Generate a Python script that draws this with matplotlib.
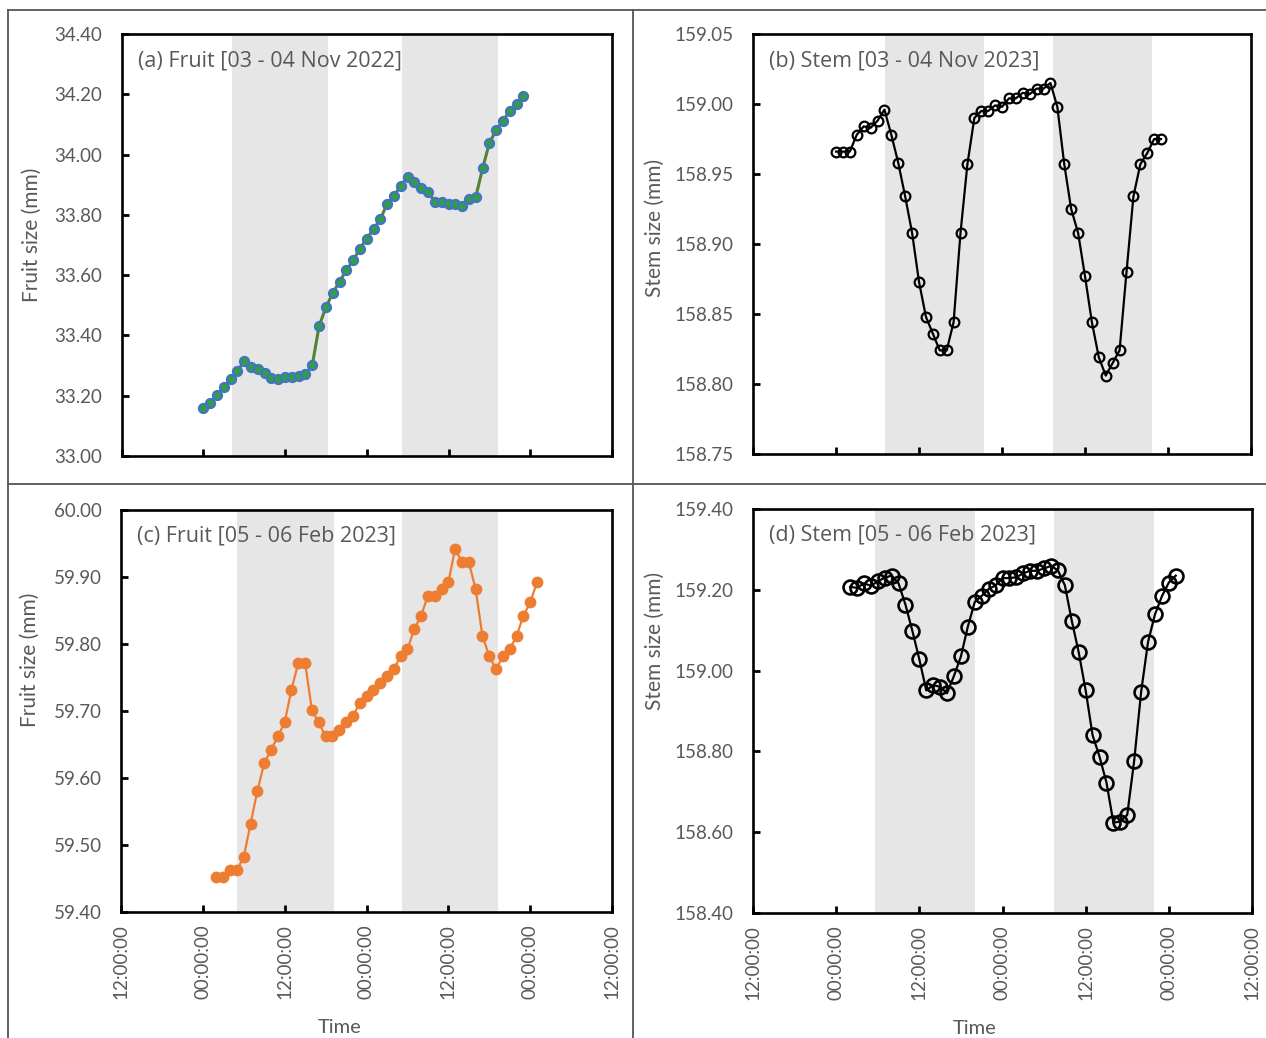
import matplotlib
matplotlib.use("Agg")
import matplotlib.pyplot as plt
import numpy as np

# hours since 12:00 of the day before the first sample
hours_ab = np.arange(12, 60)
hours_cd = np.arange(14, 62)

fruit_nov = [33.158, 33.177, 33.201, 33.229, 33.255, 33.282, 33.314, 33.294,
             33.288, 33.276, 33.260, 33.254, 33.261, 33.262, 33.267, 33.271,
             33.301, 33.431, 33.493, 33.541, 33.578, 33.616, 33.649, 33.688,
             33.721, 33.753, 33.786, 33.837, 33.864, 33.896, 33.927, 33.910,
             33.888, 33.876, 33.844, 33.844, 33.836, 33.836, 33.831, 33.852,
             33.859, 33.954, 34.038, 34.082, 34.112, 34.146, 34.167, 34.194]

stem_nov = [158.966, 158.966, 158.966, 158.978, 158.984, 158.983, 158.988, 158.996,
            158.978, 158.958, 158.934, 158.908, 158.873, 158.848, 158.836, 158.824,
            158.824, 158.844, 158.908, 158.957, 158.990, 158.995, 158.995, 158.999,
            158.998, 159.004, 159.004, 159.008, 159.007, 159.011, 159.011, 159.015,
            158.998, 158.957, 158.925, 158.908, 158.877, 158.844, 158.819, 158.806,
            158.815, 158.824, 158.880, 158.934, 158.957, 158.965, 158.975, 158.975]

fruit_feb = [59.452, 59.452, 59.462, 59.462, 59.482, 59.532, 59.581, 59.622,
             59.642, 59.662, 59.683, 59.732, 59.772, 59.772, 59.701, 59.683,
             59.662, 59.662, 59.672, 59.683, 59.692, 59.712, 59.722, 59.732,
             59.742, 59.752, 59.762, 59.782, 59.792, 59.822, 59.842, 59.872,
             59.872, 59.882, 59.892, 59.942, 59.922, 59.922, 59.882, 59.812,
             59.782, 59.762, 59.782, 59.792, 59.812, 59.842, 59.862, 59.892]

stem_feb = [159.207, 159.205, 159.216, 159.210, 159.221, 159.230, 159.235, 159.216,
            159.163, 159.098, 159.028, 158.951, 158.964, 158.960, 158.944, 158.987,
            159.035, 159.109, 159.170, 159.185, 159.202, 159.211, 159.229, 159.229,
            159.231, 159.241, 159.247, 159.247, 159.253, 159.259, 159.248, 159.211,
            159.123, 159.045, 158.951, 158.840, 158.787, 158.723, 158.624, 158.626,
            158.643, 158.777, 158.947, 159.071, 159.139, 159.184, 159.218, 159.235]

# night periods (hours)
night_a = [(16.2, 30.3), (41.2, 55.3)]
night_b = [(19.1, 33.4), (43.4, 57.7)]
night_c = [(17.0, 31.2), (41.2, 55.3)]
night_d = [(17.6, 32.1), (43.5, 57.9)]

tick_hours = [0, 12, 24, 36, 48, 60, 72]
tick_labels = ["12:00:00", "00:00:00", "12:00:00", "00:00:00",
               "12:00:00", "00:00:00", "12:00:00"]

grey_txt = "#595959"
W, H = 1266, 1038
fig = plt.figure(figsize=(W / 100, H / 100), dpi=100)


def make_ax(l, r, t, b):
    return fig.add_axes([l / W, 1 - b / H, (r - l) / W, (b - t) / H])


ax_a = make_ax(121.5, 612, 34, 456)
ax_b = make_ax(753, 1251, 34, 454)
ax_c = make_ax(121, 612, 510, 912)
ax_d = make_ax(753, 1252, 509, 913)


def style(ax, ylim, step, title, ylabel, nights, lab_xy, show_x):
    for s, e in nights:
        ax.axvspan(s, e, color="#e6e6e6", lw=0, zorder=0)
    ax.set_xlim(0, 72)
    ax.set_ylim(*ylim)
    yt = np.arange(ylim[0], ylim[1] + step / 2, step)
    ax.set_yticks(yt)
    ax.set_yticklabels(["{:.2f}".format(v) for v in yt], family="Lato",
                       fontsize=13.5, color=grey_txt)
    ax.set_xticks(tick_hours)
    if show_x:
        ax.set_xticklabels(tick_labels, rotation=90, family="Lato",
                           fontsize=13.5, color=grey_txt)
        ax.set_xlabel("Time", family="Lato", fontsize=14.5, color=grey_txt)
        ax.xaxis.set_label_coords(0.445, -0.265)
    else:
        ax.set_xticklabels([])
    ax.tick_params(direction="in", length=5, width=2)
    ax.tick_params(axis="x", pad=9)
    ax.tick_params(axis="y", pad=14)
    for sp in ax.spines.values():
        sp.set_linewidth(1.9)
        sp.set_color("black")
    ax.set_ylabel(ylabel, family="Lato", fontsize=15, color=grey_txt)
    ax.yaxis.set_label_coords(*lab_xy)
    ax.text(0.033, 0.935, title, transform=ax.transAxes, family="Open Sans",
            fontsize=15.5, color=grey_txt, va="center", ha="left")


style(ax_a, (33.0, 34.4), 0.2, "(a) Fruit [03 - 04 Nov 2022]",
      "Fruit size (mm)", night_a, (-0.162, 0.524), False)
ax_a.plot(hours_ab, fruit_nov, color="#548235", lw=2.2, marker="o", ms=6.5,
          mfc="#2ea043", mec="#4472c4", mew=1.6)

style(ax_b, (158.75, 159.05), 0.05, "(b) Stem [03 - 04 Nov 2023]",
      "Stem size (mm)", night_b, (-0.177, 0.538), False)
ax_b.plot(hours_ab, stem_nov, color="black", lw=1.6, marker="o", ms=7,
          mfc="none", mec="black", mew=1.6)

style(ax_c, (59.4, 60.0), 0.1, "(c) Fruit [05 - 06 Feb 2023]",
      "Fruit size (mm)", night_c, (-0.165, 0.627), True)
ax_c.plot(hours_cd, fruit_feb, color="#ed7d31", lw=1.6, marker="o", ms=7.5,
          mfc="#ed7d31", mec="#ed7d31")

style(ax_d, (158.4, 159.4), 0.2, "(d) Stem [05 - 06 Feb 2023]",
      "Stem size (mm)", night_d, (-0.176, 0.673), True)
ax_d.plot(hours_cd, stem_feb, color="black", lw=1.6, marker="o", ms=10,
          mfc="none", mec="black", mew=1.9)

# panel divider lines
line_kw = dict(color="#555555", lw=1.3, transform=fig.transFigure)
fig.add_artist(plt.Line2D([8 / W, 1], [1 - 10 / H] * 2, **line_kw))
fig.add_artist(plt.Line2D([8 / W, 1], [1 - 484 / H] * 2, **line_kw))
fig.add_artist(plt.Line2D([8 / W] * 2, [0, 1 - 10 / H], **line_kw))
fig.add_artist(plt.Line2D([633 / W] * 2, [0, 1 - 10 / H], **line_kw))

fig.savefig("out.png", dpi=100)
